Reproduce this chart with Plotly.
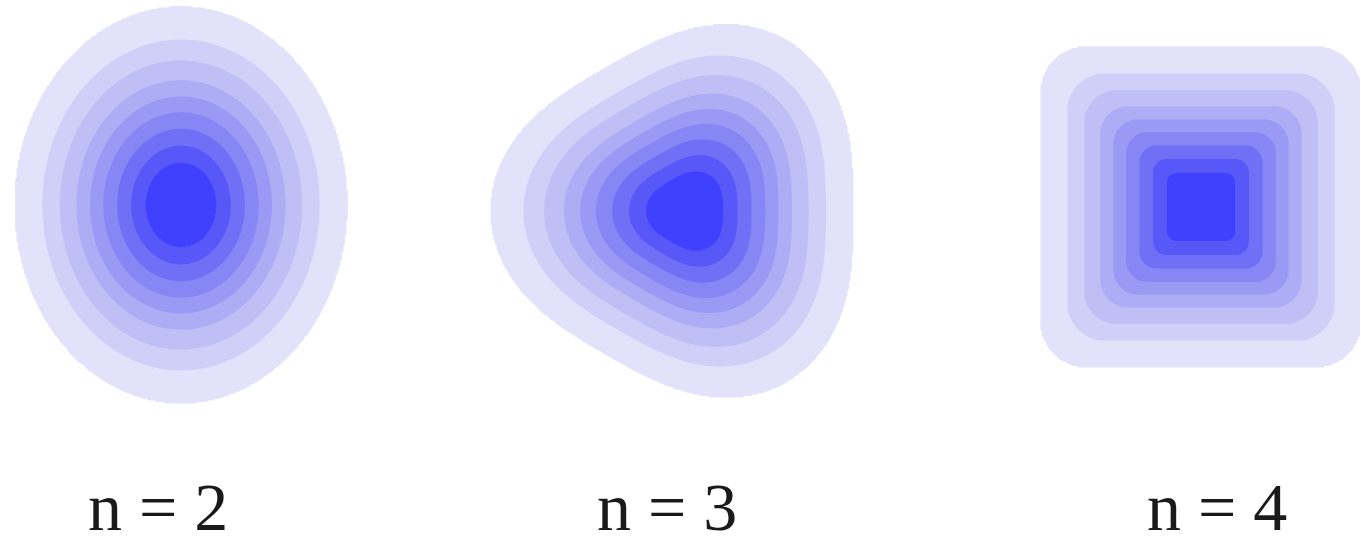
import numpy as np
import plotly.graph_objects as go

W, H = 1361, 539

# Panel captions
LABELS = ["n = 2", "n = 3", "n = 4"]

# Contour boundaries as fractions of the outermost contour (outer -> inner)
LEVEL_FRACTIONS = [1.0, 0.835, 0.73, 0.63, 0.548, 0.468, 0.385, 0.300, 0.214]

# Fill colour of each band between contours (outer -> core)
BAND_COLORS = ["#e2e2fb", "#cfcff8", "#bfbff6", "#adadf5", "#9a9af4",
               "#8686f5", "#7070f6", "#5858f9", "#4040ff"]

# Panel geometry: centre, grid window and outline shape
PANELS = [
    dict(cx=181, cy=205, x0=0, x1=430, shape=("ellipse", 166, 198)),
    dict(cx=688, cy=211, x0=450, x1=940, shape=("harmonic", 3, 181, 0.088)),
    dict(cx=1201, cy=207, x0=1000, x1=W, shape=("rounded_polygon", 4, 162.6, 45, np.pi / 4)),
]
LABEL_X = [158, 667, 1217]
LABEL_Y = 507


def ellipse_radius(theta, a, b):
    return 1.0 / np.sqrt((np.cos(theta) / a) ** 2 + (np.sin(theta) / b) ** 2)


def harmonic_radius(theta, n, mean_radius, amplitude):
    """Circle modulated by an n-fold harmonic (flat side facing +x)."""
    return mean_radius * (1.0 - amplitude * np.cos(n * theta))


def rounded_polygon_radius(theta, n, circumradius, rounding, first_vertex):
    """Radial function of a regular n-gon dilated by a disk, via its support function."""
    phi = np.linspace(0, 2 * np.pi, 2880, endpoint=False)
    va = first_vertex + 2 * np.pi * np.arange(n) / n
    support = circumradius * np.max(np.cos(phi[:, None] - va[None, :]), axis=1) + rounding
    t = np.linspace(-np.pi, np.pi, 2881)
    gauge = np.max(np.cos(t[:, None] - phi[None, :]) / support[None, :], axis=1)
    return np.interp(theta, t, 1.0 / gauge, period=2 * np.pi)


def level_field(xs, ys, cx, cy, shape):
    X, Y = np.meshgrid(xs, ys)
    dx, dy = X - cx, cy - Y
    r = np.hypot(dx, dy)
    th = np.arctan2(dy, dx)
    kind = shape[0]
    if kind == "ellipse":
        R = ellipse_radius(th, shape[1], shape[2])
    elif kind == "harmonic":
        R = harmonic_radius(th, *shape[1:])
    else:
        R = rounded_polygon_radius(th, *shape[1:])
    g = r / R
    fr = np.array(LEVEL_FRACTIONS)
    nlev = len(fr)
    xp = np.concatenate([[0.0], fr[::-1], [10.0]])
    fp = np.concatenate([[nlev + 1.0], np.arange(nlev, 0, -1), [0.0]])
    return np.interp(g, xp, fp)


colors = ["#ffffff"] + BAND_COLORS
nl = len(LEVEL_FRACTIONS)
colorscale = [[k / nl, c] for k, c in enumerate(colors)]

fig = go.Figure()
ys = np.arange(0, 431, 1.5)
for p in PANELS:
    xs = np.arange(p["x0"], p["x1"] + 0.01, 1.5)
    z = level_field(xs, ys, p["cx"], p["cy"], p["shape"])
    fig.add_trace(go.Contour(
        x=xs, y=ys, z=z,
        autocontour=False,
        contours=dict(start=1, end=nl, size=1, coloring="fill"),
        colorscale=colorscale,
        line=dict(width=0),
        showscale=False,
        hoverinfo="skip",
    ))

for text, lx in zip(LABELS, LABEL_X):
    fig.add_annotation(
        x=lx, y=LABEL_Y, xref="x", yref="y", text=text, showarrow=False,
        xanchor="center", yanchor="middle",
        font=dict(family="Liberation Serif", size=68, color="#1a1a1a"),
    )

fig.update_xaxes(range=[0, W], visible=False, fixedrange=True)
fig.update_yaxes(range=[H, 0], visible=False, fixedrange=True)
fig.update_layout(
    width=W, height=H,
    margin=dict(l=0, r=0, t=0, b=0),
    paper_bgcolor="white", plot_bgcolor="white",
    showlegend=False,
)

fig.write_html("out.html", config={"displayModeBar": False})
